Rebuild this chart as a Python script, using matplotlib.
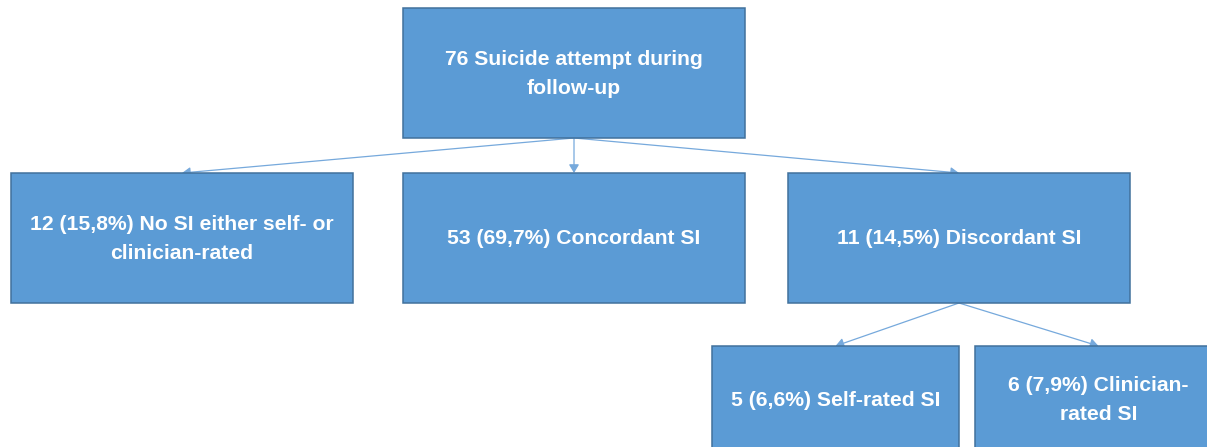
import matplotlib
matplotlib.use("Agg")
import matplotlib.pyplot as plt
from matplotlib.patches import Rectangle, FancyArrowPatch

# Data
labels = [
    "76 Suicide attempt during\nfollow-up",
    "12 (15,8%) No SI either self- or\nclinician-rated",
    "53 (69,7%) Concordant SI",
    "11 (14,5%) Discordant SI",
    "5 (6,6%) Self-rated SI",
    "6 (7,9%) Clinician-\nrated SI",
]
parents = [None, 0, 0, 0, 3, 3]

# Layout (pixel coords: x0, y0, width, height)
boxes = [
    (403, 8, 342, 130),
    (11, 173, 342, 130),
    (403, 173, 342, 130),
    (788, 173, 342, 130),
    (712, 346, 247, 130),
    (975, 346, 247, 130),
]

W, H = 1207, 447
fig = plt.figure(figsize=(W / 100, H / 100), dpi=100)
ax = fig.add_axes([0, 0, 1, 1])
ax.set_xlim(0, W)
ax.set_ylim(H, 0)
ax.axis("off")

fill = "#5B9BD5"
edge = "#41719C"
arrow_col = "#76A9DC"

for (x, y, w, h), lab in zip(boxes, labels):
    ax.add_patch(Rectangle((x, y), w, h, facecolor=fill, edgecolor=edge, lw=1.1, zorder=2))
    if y + h > H:
        ty = y + 54
    else:
        ty = y + h / 2 + 1
    ax.text(x + w / 2, ty, lab, ha="center", va="center", color="white",
            fontsize=15.2, fontweight="bold", family="Liberation Sans",
            linespacing=1.62, zorder=3)

for i, p in enumerate(parents):
    if p is None:
        continue
    px, py, pw, ph = boxes[p]
    cx, cy, cw, ch = boxes[i]
    arr = FancyArrowPatch((px + pw / 2, py + ph), (cx + cw / 2, cy),
                          arrowstyle="-|>,head_length=5,head_width=3",
                          color=arrow_col, lw=0.9, shrinkA=0, shrinkB=0, zorder=1)
    ax.add_patch(arr)

fig.savefig("out.png", dpi=100)
